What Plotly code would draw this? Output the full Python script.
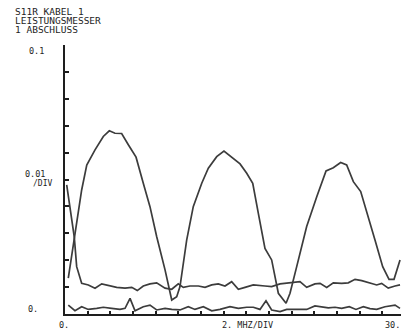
import plotly.graph_objects as go

# ---- data ----
freq_main = [0.29, 0.82, 1.47, 1.92, 2.65, 3.38, 3.91, 4.41, 5.00, 5.59, 6.27, 6.91, 7.50, 8.09,
             8.83, 9.42, 9.86, 10.15, 10.74, 11.32, 12.07, 12.65, 13.39, 14.03, 14.85, 15.45,
             16.04, 16.57, 17.06, 17.65, 18.24, 18.83, 19.51, 19.86, 20.45, 21.33, 22.22, 23.04,
             23.68, 24.33, 24.86, 25.45, 26.10, 26.77, 27.36, 28.04, 28.60, 29.04, 29.57]
s11r_main = [0.0133, 0.0286, 0.0461, 0.0554, 0.0610, 0.0660, 0.0681, 0.0672, 0.0671, 0.0629,
             0.0583, 0.0486, 0.0399, 0.0288, 0.0164, 0.0052, 0.0064, 0.0102, 0.0275, 0.0399,
             0.0486, 0.0542, 0.0585, 0.0606, 0.0579, 0.0558, 0.0523, 0.0486, 0.0375, 0.0244,
             0.0201, 0.0077, 0.0040, 0.0077, 0.0176, 0.0325, 0.0436, 0.0532, 0.0544, 0.0563,
             0.0554, 0.0492, 0.0455, 0.0362, 0.0275, 0.0176, 0.0129, 0.0129, 0.0201]

freq_mid = [0.15, 0.82, 1.03, 1.47, 2.06, 2.65, 3.24, 3.97, 4.56, 5.30, 5.89, 6.38, 6.91, 7.50,
            8.09, 8.83, 9.42, 10.00, 10.44, 11.03, 11.77, 12.36, 12.95, 13.53, 14.12, 14.71,
            15.30, 15.89, 16.62, 17.65, 18.24, 18.98, 20.01, 20.74, 21.33, 22.06, 22.51, 23.10,
            23.68, 24.42, 25.00, 25.60, 26.19, 26.92, 27.51, 27.95, 28.53, 29.13, 29.57]
val_mid = [0.0480, 0.0286, 0.0176, 0.0114, 0.0108, 0.0096, 0.0112, 0.0104, 0.0099, 0.0096,
           0.0099, 0.0087, 0.0104, 0.0112, 0.0116, 0.0096, 0.0092, 0.0112, 0.0099, 0.0104,
           0.0104, 0.0099, 0.0108, 0.0112, 0.0104, 0.0120, 0.0092, 0.0099, 0.0108, 0.0104,
           0.0102, 0.0112, 0.0116, 0.0120, 0.0099, 0.0112, 0.0114, 0.0099, 0.0116, 0.0114,
           0.0116, 0.0129, 0.0124, 0.0114, 0.0108, 0.0114, 0.0096, 0.0104, 0.0108]

freq_low = [0.29, 0.88, 1.47, 2.06, 2.80, 3.38, 4.12, 4.85, 5.30, 5.74, 6.18, 6.91, 7.50, 8.09,
            8.83, 9.42, 10.15, 10.88, 11.47, 12.21, 12.95, 13.68, 14.56, 15.30, 16.04, 16.62,
            17.21, 17.74, 18.24, 18.98, 19.57, 20.30, 21.33, 22.06, 22.66, 23.24, 23.83, 24.42,
            25.09, 25.68, 26.33, 26.92, 27.51, 28.24, 29.13, 29.57]
val_low = [0.0033, 0.0012, 0.0027, 0.0017, 0.0021, 0.0025, 0.0021, 0.0017, 0.0021, 0.0058,
           0.0012, 0.0027, 0.0033, 0.0015, 0.0021, 0.0017, 0.0015, 0.0027, 0.0017, 0.0027,
           0.0012, 0.0017, 0.0027, 0.0021, 0.0025, 0.0025, 0.0017, 0.0049, 0.0015, 0.0009,
           0.0017, 0.0017, 0.0017, 0.0030, 0.0027, 0.0023, 0.0025, 0.0021, 0.0027, 0.0017,
           0.0027, 0.0020, 0.0017, 0.0027, 0.0033, 0.0021]

title_lines = ["S11R KABEL 1", "LEISTUNGSMESSER", "1 ABSCHLUSS"]
y_top_label = "0.1"
y_mid_label = "0.01"
y_div_label = "/DIV"
y_bottom_label = "0."
x_left_label = "0."
x_mid_label = "2. MHZ/DIV"
x_right_label = "30."

y_tickvals = [i * 0.01 for i in range(11)]
x_tickvals = [i * 2 for i in range(15)]

# ---- layout geometry ----
W, H = 401, 331
L, R, T, B = 65, 0, 45, 17
FONT = "DejaVu Sans Mono"
INK = "#1e1e1e"
LINE = "#3c3c3c"


def px_to_paper(px, py):
    return (px - L) / (W - L - R), (H - B - py) / (H - T - B)


fig = go.Figure()
for xs, ys in [(freq_main, s11r_main), (freq_mid, val_mid), (freq_low, val_low)]:
    fig.add_trace(go.Scatter(x=xs, y=ys, mode="lines",
                             line=dict(color=LINE, width=1.7), showlegend=False,
                             hoverinfo="skip"))

annotations = []


def ann(text, px, py, size, xanchor="center"):
    x, y = px_to_paper(px, py)
    annotations.append(dict(text=text, x=x, y=y, xref="paper", yref="paper",
                            xanchor=xanchor, yanchor="middle", showarrow=False,
                            borderpad=0,
                            font=dict(family=FONT, size=size, color=INK)))


for i, line in enumerate(title_lines):
    ann(line, 14, 12 + 9 * i, 9.5, xanchor="left")

ann(y_top_label, 36, 51, 8.5)
ann(y_mid_label, 35, 174, 8.5)
ann(y_div_label, 42, 183, 8)
ann(y_bottom_label, 33, 309, 8.5)
ann(x_left_label, 64, 325, 8.5)
ann(x_mid_label, 247, 325, 8.5)
ann(x_right_label, 401, 325, 8.5, xanchor="right")

fig.update_layout(
    width=W, height=H,
    margin=dict(l=L, r=R, t=T, b=B, pad=0),
    paper_bgcolor="white", plot_bgcolor="white",
    annotations=annotations,
    xaxis=dict(range=[0, (W - L - R) / 11.33], showgrid=False, zeroline=False,
               showline=True, linecolor=INK, linewidth=2,
               ticks="inside", tickvals=x_tickvals, ticklen=3, tickwidth=1.5,
               tickcolor=INK, showticklabels=False, fixedrange=True),
    yaxis=dict(range=[0, 0.1], showgrid=False, zeroline=False,
               showline=True, linecolor=INK, linewidth=2,
               ticks="inside", tickvals=y_tickvals, ticklen=4, tickwidth=1.5,
               tickcolor=INK, showticklabels=False, fixedrange=True),
)

fig.write_html("out.html", config={"displayModeBar": False},
               post_script="document.body.style.margin='0';document.body.style.overflow='hidden';")
